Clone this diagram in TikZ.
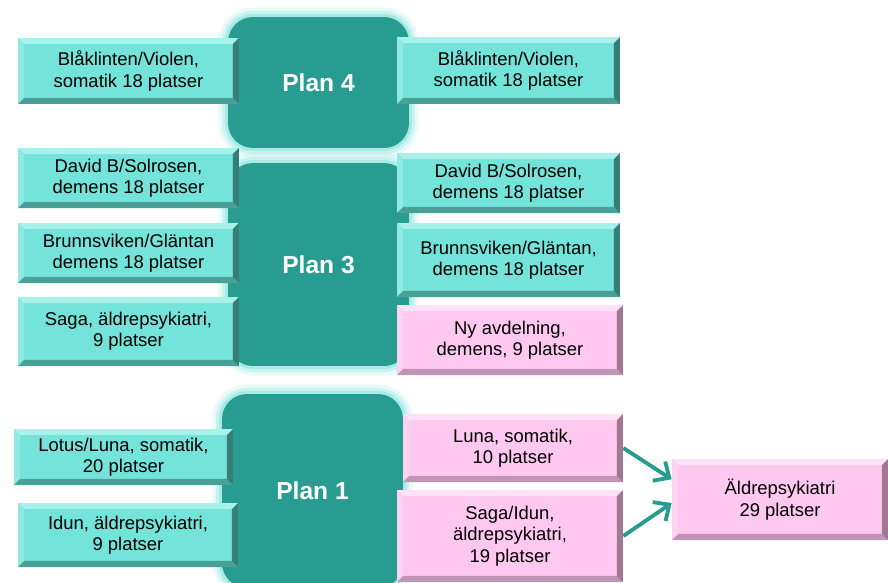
\documentclass[tikz,border=0pt]{standalone}
\usepackage{fontspec}
\setmainfont{Liberation Sans}
\usepackage{xcolor}
\usetikzlibrary{arrows.meta,positioning}
\definecolor{turk}{HTML}{74E3DA}
\definecolor{turkT}{HTML}{A8F2EC}
\definecolor{turkL}{HTML}{8EEAE2}
\definecolor{turkB}{HTML}{4A9F97}
\definecolor{turkR}{HTML}{357F78}
\definecolor{rosa}{HTML}{FFC8F0}
\definecolor{rosaT}{HTML}{FFE2F8}
\definecolor{rosaL}{HTML}{FAD4F0}
\definecolor{rosaB}{HTML}{C094B6}
\definecolor{rosaR}{HTML}{A07891}
\definecolor{planc}{HTML}{289C91}
\definecolor{glow}{HTML}{8FE6DF}
\tikzset{
fas/.style = {path picture={
  \path (path picture bounding box.north west) coordinate (nw)
        (path picture bounding box.north east) coordinate (ne)
        (path picture bounding box.south west) coordinate (sw)
        (path picture bounding box.south east) coordinate (se);
  \fill[#1T] (nw) -- (ne) -- ([shift={(-3.5pt,-3.5pt)}]ne) -- ([shift={(3.5pt,-3.5pt)}]nw) -- cycle;
  \fill[#1L] (nw) -- ([shift={(3.5pt,-3.5pt)}]nw) -- ([shift={(3.5pt,3.5pt)}]sw) -- (sw) -- cycle;
  \fill[#1B] (sw) -- ([shift={(3.5pt,3.5pt)}]sw) -- ([shift={(-3.5pt,3.5pt)}]se) -- (se) -- cycle;
  \fill[#1R] (se) -- ([shift={(-3.5pt,3.5pt)}]se) -- ([shift={(-3.5pt,-3.5pt)}]ne) -- (ne) -- cycle;
  }},% avfasad kant
avd/.style = {align=center, inner sep=0pt, text centered,
font=\fontsize{10.5}{12.2}\selectfont, minimum width=4.42cm},
avd_t/.style = {avd, fill=turk, fas=turk},% turkos avdelning
avd_r/.style = {avd, fill=rosa, fas=rosa},% rosa avdelning
plan_b/.style = {rectangle, rounded corners=0.5cm, fill=planc, text=white,
font=\fontsize{14}{16}\selectfont\bfseries, minimum width=3.62cm,
preaction={draw=glow, draw opacity=0.2, line width=11pt},
preaction={draw=glow, draw opacity=0.35, line width=7pt},
preaction={draw=glow, draw opacity=0.6, line width=3.5pt}},% plan med glod
pil/.style = {draw=planc, line width=2.2pt, -{Straight Barb[length=7pt,width=13pt]}}
}
\begin{document}
\begin{tikzpicture}[x=0.02cm, y=-0.02cm]
  \useasboundingbox (0,0) rectangle (888,582);
  \clip (0,0) rectangle (888,582);
  % plan
  \node [plan_b, minimum height=2.62cm] (p4) at (318.5,82.5) {Plan 4};
  \node [plan_b, minimum height=4.06cm] (p3) at (318.5,264.5) {Plan 3};
  \node [plan_b, minimum height=3.88cm] (p1) at (312.5,491) {Plan 1};
  % idag
  \node [avd_t, minimum height=1.32cm] (l4) at (128.5,71) {Blåklinten/Violen,\\somatik 18 platser};
  \node [avd_t, minimum height=1.2cm] (l3a) at (128.5,178) {David B/Solrosen,\\demens 18 platser};
  \node [avd_t, minimum height=1.2cm] (l3b) at (128.5,253) {Brunnsviken/Gläntan\\demens 18 platser};
  \node [avd_t, minimum height=1.38cm] (l3c) at (128.5,331.5) {Saga, äldrepsykiatri,\\9 platser};
  \node [avd_t, minimum height=1.12cm, minimum width=4.38cm] (l1a) at (123.5,457) {Lotus/Luna, somatik,\\20 platser};
  \node [avd_t, minimum height=1.28cm, minimum width=4.4cm] (l1b) at (128,535) {Idun, äldrepsykiatri,\\9 platser};
  % framtid
  \node [avd_t, minimum height=1.34cm, minimum width=4.46cm] (r4) at (508.5,70.5) {Blåklinten/Violen,\\somatik 18 platser};
  \node [avd_t, minimum height=1.2cm, minimum width=4.46cm] (r3a) at (508.5,183) {David B/Solrosen,\\demens 18 platser};
  \node [avd_t, minimum height=1.48cm, minimum width=4.46cm] (r3b) at (508.5,260) {Brunnsviken/Gläntan,\\demens 18 platser};
  \node [avd_r, minimum height=1.4cm, minimum width=4.52cm] (r3c) at (510,340) {Ny avdelning,\\demens, 9 platser};
  \node [avd_r, minimum height=1.36cm, minimum width=4.4cm] (r1a) at (513,448) {Luna, somatik,\\10 platser};
  \node [avd_r, minimum height=1.84cm, minimum width=4.52cm] (r1b) at (510,536) {Saga/Idun,\\äldrepsykiatri,\\19 platser};
  \node [avd_r, minimum height=1.62cm, minimum width=4.32cm] (dst) at (780,499.5) {Äldrepsykiatri\\29 platser};
  \draw [pil] (r1a.east) -- ([yshift=11.5pt]dst.west);
  \draw [pil] (r1b.east) -- ([yshift=-2pt]dst.west);
\end{tikzpicture}
\end{document}
